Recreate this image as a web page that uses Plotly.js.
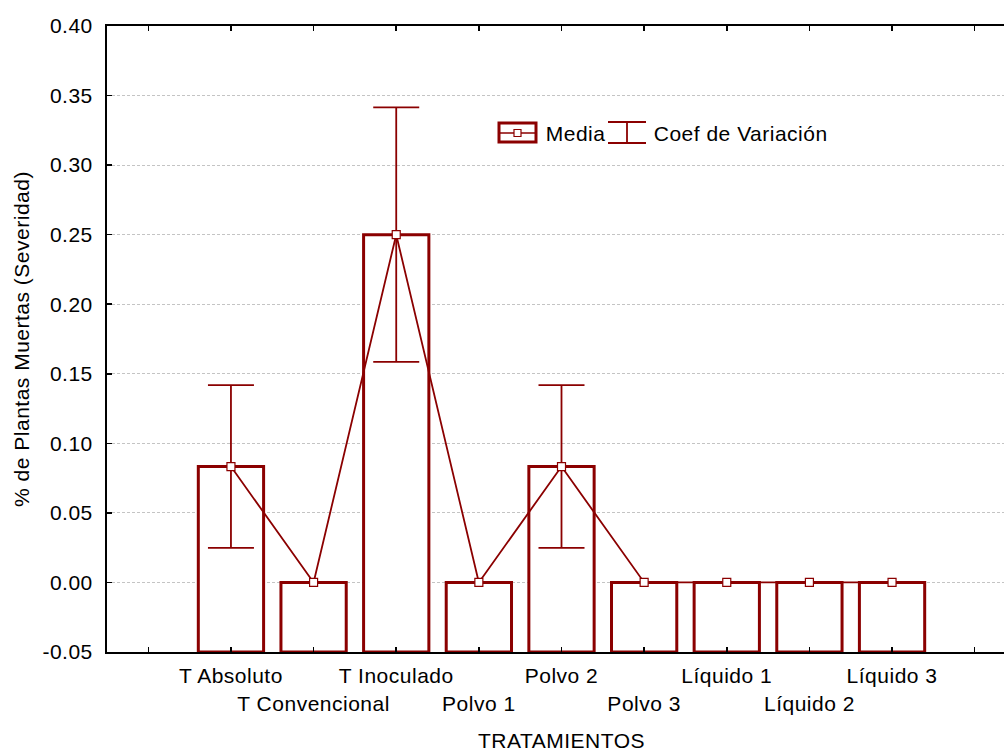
<!DOCTYPE html>
<html>
<head>
<meta charset="utf-8">
<script src="https://cdn.plot.ly/plotly-3.0.1.min.js"></script>
<style>
html, body { margin: 0; padding: 0; background: #fff; overflow: hidden; }
#chart { width: 1020px; height: 753px; }
#chart text { letter-spacing: 0.5px; }
</style>
</head>
<body>
<div id="chart"></div>
<script>
// ---- data ----
var categories = ['T Absoluto', 'T Convencional', 'T Inoculado', 'Polvo 1', 'Polvo 2', 'Polvo 3', 'Líquido 1', 'Líquido 2', 'Líquido 3'];
var media = [0.0833, 0, 0.25, 0, 0.0833, 0, 0, 0, 0];
var coefVariacion = [0.0585, 0, 0.0915, 0, 0.0585, 0, 0, 0, 0];
var yBase = -0.05;
var yTickVals = [-0.05, 0.00, 0.05, 0.10, 0.15, 0.20, 0.25, 0.30, 0.35, 0.40];
var yTickText = ['-0.05', '0.00', '0.05', '0.10', '0.15', '0.20', '0.25', '0.30', '0.35', '0.40'];

// ---- derived ----
var xIdx = categories.map(function (c, i) { return i; });
var barLen = media.map(function (v) { return v - yBase; });
var xTickVals = [-1].concat(xIdx).concat([categories.length]);
var xTickText = [''].concat(categories.map(function (c, i) { return (i % 2 === 1 ? '<br>' : '') + c; })).concat(['']);

var RED = '#8b0000';
var FONT = 'Liberation Sans, Arial, sans-serif';
var FS = 21;

var bars = {
  type: 'bar',
  x: xIdx,
  y: barLen,
  base: yBase,
  width: 0.79,
  marker: { color: '#ffffff', line: { color: RED, width: 3 } },
  showlegend: false,
  hoverinfo: 'skip'
};

var meanLine = {
  type: 'scatter',
  mode: 'lines+markers',
  x: xIdx,
  y: media,
  line: { color: RED, width: 1.8 },
  marker: { symbol: 'square', size: 8, color: '#ffffff', line: { color: RED, width: 1.2 } },
  error_y: { type: 'data', array: coefVariacion, visible: true, color: RED, thickness: 1.8, width: 23 },
  showlegend: false
};

// legend (pixel -> paper helpers)
var PL = 107, PW = 909, PB = 652, PH = 626;
function px(x) { return (x - PL) / PW; }
function py(y) { return (PB - y) / PH; }

var shapes = [
  { type: 'rect', xref: 'paper', yref: 'paper', x0: px(499), x1: px(536), y0: py(142), y1: py(123), line: { color: RED, width: 3 }, fillcolor: '#fff' },
  { type: 'line', xref: 'paper', yref: 'paper', x0: px(499), x1: px(536), y0: py(133), y1: py(133), line: { color: RED, width: 1.5 } },
  { type: 'rect', xref: 'paper', yref: 'paper', x0: px(514), x1: px(521), y0: py(136.5), y1: py(129.5), line: { color: RED, width: 1.2 }, fillcolor: '#fff' },
  { type: 'line', xref: 'paper', yref: 'paper', x0: px(627), x1: px(627), y0: py(143), y1: py(122), line: { color: RED, width: 1.8 } },
  { type: 'line', xref: 'paper', yref: 'paper', x0: px(608), x1: px(646), y0: py(122), y1: py(122), line: { color: RED, width: 1.8 } },
  { type: 'line', xref: 'paper', yref: 'paper', x0: px(608), x1: px(646), y0: py(143), y1: py(143), line: { color: RED, width: 1.8 } }
];

var annotations = [
  { xref: 'paper', yref: 'paper', x: px(545), y: py(133), xanchor: 'left', yanchor: 'middle', text: 'Media', showarrow: false, font: { family: FONT, size: FS, color: '#000' } },
  { xref: 'paper', yref: 'paper', x: px(656), y: py(133), xanchor: 'left', yanchor: 'middle', text: 'Coef de Variación', showarrow: false, font: { family: FONT, size: FS, color: '#000' } }
];

var layout = {
  width: 1020,
  height: 753,
  margin: { l: 107, r: 4, t: 26, b: 101 },
  paper_bgcolor: '#ffffff',
  plot_bgcolor: '#ffffff',
  font: { family: FONT, size: FS, color: '#000' },
  showlegend: false,
  xaxis: {
    range: [-1.5, 9.5],
    tickmode: 'array',
    tickvals: xTickVals,
    ticktext: xTickText,
    tickangle: 0,
    ticks: 'inside',
    ticklen: 5,
    tickwidth: 1.5,
    tickcolor: '#000',
    showline: true,
    linecolor: '#000',
    linewidth: 2,
    mirror: 'ticks',
    showgrid: false,
    zeroline: false,
    ticklabelstandoff: 4,
    tickfont: { family: FONT, size: FS, color: '#000' },
    title: { text: 'TRATAMIENTOS', standoff: 20, font: { family: FONT, size: FS, color: '#000' } },
    automargin: false
  },
  yaxis: {
    range: [-0.05, 0.40],
    tickmode: 'array',
    tickvals: yTickVals,
    ticktext: yTickText,
    ticks: 'inside',
    ticklen: 5,
    tickwidth: 1.5,
    tickcolor: '#000',
    showline: true,
    linecolor: '#000',
    linewidth: 2,
    mirror: 'ticks',
    showgrid: true,
    gridcolor: '#c4c4c4',
    gridwidth: 1,
    griddash: '3px,2px',
    zeroline: false,
    ticklabelstandoff: 8,
    tickfont: { family: FONT, size: FS, color: '#000' },
    title: { text: '% de Plantas Muertas (Severidad)', standoff: 10, font: { family: FONT, size: FS, color: '#000' } },
    automargin: false
  },
  bargap: 0,
  shapes: shapes,
  annotations: annotations
};

Plotly.newPlot('chart', [bars, meanLine], layout, { displayModeBar: false, staticPlot: true });
</script>
</body>
</html>
